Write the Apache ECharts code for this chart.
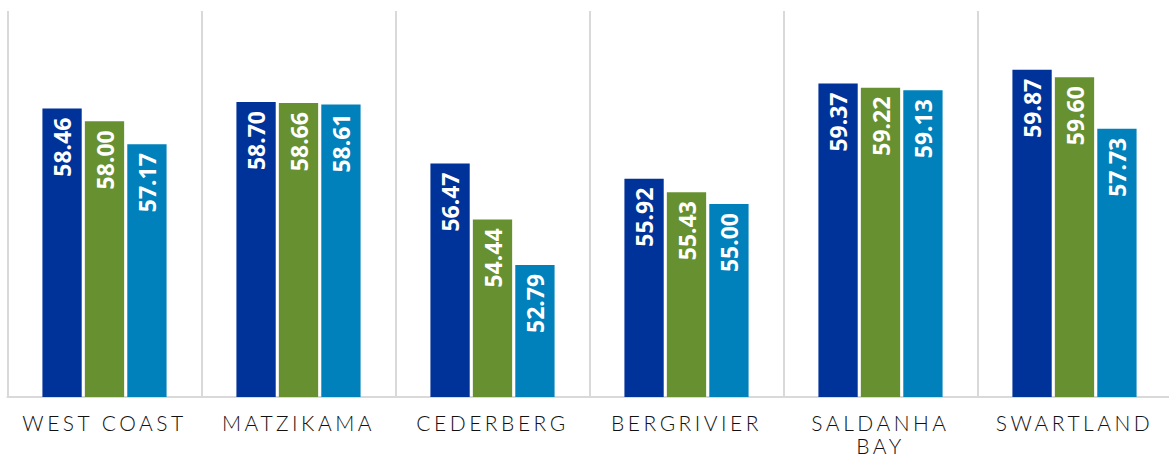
<!DOCTYPE html>
<html>
<head>
<meta charset="utf-8">
<script src="https://cdn.jsdelivr.net/npm/echarts@6/dist/echarts.min.js"></script>
<style>
  html, body { margin: 0; padding: 0; background: #fff; }
  #chart { width: 1169px; height: 459px; }
  /* wide tracking on the category names, like the original */
  #chart text[style*="300"] { letter-spacing: 3.5px; }
</style>
</head>
<body>
<div id="chart"></div>
<script>
const categories = ['WEST COAST', 'MATZIKAMA', 'CEDERBERG', 'BERGRIVIER', 'SALDANHA BAY', 'SWARTLAND']
const series1 = [58.46, 58.70, 56.47, 55.92, 59.37, 59.87]
const series2 = [58.00, 58.66, 54.44, 55.43, 59.22, 59.60]
const series3 = [57.17, 58.61, 52.79, 55.00, 59.13, 57.73]
const colors = ['#003399', '#679131', '#0081BB']

const chart = echarts.init(document.getElementById('chart'), null, { renderer: 'svg' })

const valueLabel = {
  show: true,
  position: 'insideTop',
  rotate: 90,
  align: 'right',
  verticalAlign: 'middle',
  distance: 9,
  color: '#fff',
  fontFamily: 'Noto Sans',
  fontWeight: 'bold',
  fontSize: 23,
  formatter: p => p.value.toFixed(2)
}

function barSeries(data, i) {
  return {
    type: 'bar',
    data: data,
    barGap: '8%',
    barCategoryGap: '36%',
    itemStyle: { color: colors[i] },
    label: valueLabel
  }
}

chart.setOption({
  animation: false,
  grid: {
    left: 7.5, right: -2.5, top: 11, bottom: 62,
    containLabel: false,
    outerBoundsMode: 'none'
  },
  xAxis: {
    type: 'category',
    data: categories,
    axisLine: { lineStyle: { color: '#d9d9d9', width: 2 } },
    axisTick: { show: false },
    splitLine: { show: true, lineStyle: { color: '#d9d9d9', width: 2 } },
    axisLabel: {
      margin: 14,
      color: '#111',
      fontFamily: 'Lato',
      fontWeight: 300,
      fontSize: 21,
      lineHeight: 23,
      interval: 0,
      formatter: v => v.length > 11 ? v.replace(' ', '\n') : v
    }
  },
  yAxis: {
    type: 'value',
    min: 48,
    max: 62,
    show: false,
    splitLine: { show: false }
  },
  series: [barSeries(series1, 0), barSeries(series2, 1), barSeries(series3, 2)]
})
</script>
</body>
</html>
